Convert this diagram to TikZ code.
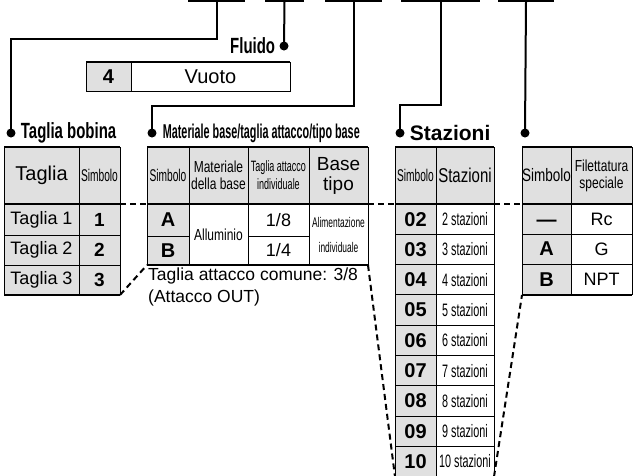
\documentclass[tikz,border=0pt]{standalone}
\usepackage{fontspec}
\setmainfont{Liberation Sans}
\newfontfamily\condfont[FakeStretch=0.75]{Liberation Sans}
\newfontfamily\headfont[FakeStretch=0.68]{Liberation Sans}
\newfontfamily\narrowfont[FakeStretch=0.6]{Liberation Sans}
\newfontfamily\tightfont[FakeStretch=0.54]{Liberation Sans}
\usepackage{tikz}
\usetikzlibrary{positioning}
\definecolor{cellgray}{RGB}{224,224,224}
\tikzset{
  codebox/.style={draw, line width=2pt, anchor=south west, minimum height=24pt, inner sep=0pt},
  lead/.style={line width=2pt},
  dot/.style={circle, fill=black, inner sep=0pt, minimum size=9pt},
  heading/.style={inner sep=1pt, font=\bfseries\headfont\fontsize{22}{24}\selectfont},
  grid/.style={line width=1pt},
  rule/.style={line width=2.2pt},
  hint/.style={line width=2pt, dash pattern=on 6pt off 4pt},
  body/.style={inner sep=0pt, align=center, font=\fontsize{18}{20}\selectfont},
  sym/.style={inner sep=0pt, font=\bfseries\fontsize{20}{22}\selectfont},
  cond/.style={inner sep=0pt, align=center, font=\condfont\fontsize{16}{17}\selectfont},
  slim/.style={inner sep=0pt, align=center, font=\narrowfont\fontsize{17}{18}\selectfont},
}
\begin{document}
\begin{tikzpicture}[x=1pt,y=-1pt]
\path[use as bounding box, clip] (0,0) rectangle (635,475);

% code fields
\node[codebox, minimum width=55pt] (code1) at (188,2) {};
\node[codebox, minimum width=37pt] (code2) at (265,2) {};
\node[codebox, minimum width=55pt] (code3) at (325,2) {};
\node[codebox, minimum width=77pt] (code4) at (401,2) {};
\node[codebox, minimum width=54pt] (code5) at (498,2) {};

\node[dot] (dot-bobina) at (11,133) {};
\node[dot] (dot-fluido) at (284,46) {};
\node[dot] (dot-base) at (152,133) {};
\node[dot] (dot-staz) at (400,133) {};
\node[dot] (dot-filet) at (525,133) {};

\draw[lead] (code1.south) -- ++(0,37) -| (dot-bobina.center);
\draw[lead] (code2.south) -- (dot-fluido.center);
\draw[lead] (code3.south) -- ++(0,104) -| (dot-base.center);
\draw[lead] (code4.south) -- ++(0,103) -| (dot-staz.center);
\draw[lead] (code5.south) -- (dot-filet.center);

\node[heading, right=4pt of dot-bobina] (lbl-bobina) {Taglia bobina};
\node[heading, left=3pt of dot-fluido] (lbl-fluido) {Fluido};
\node[heading, right=5pt of dot-base, font=\bfseries\tightfont\fontsize{20}{22}\selectfont] (lbl-base) {Materiale base/taglia attacco/tipo base};
\node[heading, right=4pt of dot-staz, font=\bfseries\fontsize{21}{24}\selectfont] (lbl-staz) {Stazioni};

% Fluido
\fill[cellgray] (86,62) rectangle (131,91);
\draw[grid] (86,62) rectangle (290,91) (131,62) -- (131,91);
\draw[rule] (86,62) -- (290,62);
\node[sym] (fl-s) at (108.5,76.5) {4};
\node[body, font=\fontsize{20}{22}\selectfont] (fl-n) at (210.5,76.5) {Vuoto};

% Taglia bobina
\fill[cellgray] (4,147) rectangle (120,295);
\draw[grid] (4,147) -- (4,295) (79,147) -- (79,295) (120,147) -- (120,295)
  (4,235) -- (120,235) (4,265) -- (120,265);
\draw[rule] (4,147) -- (120,147) (4,204) -- (120,204) (4,295) -- (120,295);
\node[body, font=\fontsize{20}{22}\selectfont] (tb-h1) at (41.5,175.5) {Taglia};
\node[slim] (tb-h2) at (99.5,175.5) {Simbolo};
\foreach \i/\y in {1/219.5,2/250,3/280}{
  \node[body] (tb-n\i) at (41.5,\y) {Taglia \i};
  \node[sym, font=\bfseries\fontsize{19}{21}\selectfont] (tb-s\i) at (99.5,\y) {\i};
}
\coordinate (bobina-hr) at (120,204);
\coordinate (bobina-se) at (120,295);

% Materiale base
\fill[cellgray] (147,147) rectangle (368,204);
\fill[cellgray] (147,204) rectangle (189,265);
\draw[grid] (147,147) -- (147,265) (189,147) -- (189,265) (248,147) -- (248,265)
  (309,147) -- (309,265) (368,147) -- (368,265) (147,236) -- (189,236) (248,236) -- (309,236);
\draw[rule] (147,147) -- (368,147) (147,204) -- (368,204) (147,265) -- (368,265);
\node[slim] (mb-h1) at (168,175.5) {Simbolo};
\node[cond] (mb-h2) at (218.5,175.5) {Materiale\\della base};
\node[slim, font=\narrowfont\fontsize{15}{18}\selectfont] (mb-h3) at (278.5,175.5) {Taglia attacco\\individuale};
\node[body, font=\fontsize{19}{20}\selectfont] (mb-h4) at (338.5,175.5) {Base\\tipo};
\node[sym] (mb-s1) at (168,220) {A};
\node[sym] (mb-s2) at (168,250.5) {B};
\node[cond] (mb-mat) at (218.5,234.5) {Alluminio};
\node[body] (mb-p1) at (278.5,220) {1/8};
\node[body] (mb-p2) at (278.5,250.5) {1/4};
\node[slim, font=\narrowfont\fontsize{14}{25}\selectfont] (mb-tipo) at (338.5,234.5) {Alimentazione\\individuale};
\node[body, anchor=north west, align=left, font=\fontsize{17.5}{22}\selectfont] (mb-note) at (148,268)
  {Taglia attacco comune: 3/8\\(Attacco OUT)};
\coordinate (base-hl) at (147,204);
\coordinate (base-sw) at (147,265);
\coordinate (base-hr) at (368,204);
\coordinate (base-se) at (368,265);

% Stazioni
\fill[cellgray] (395,147) rectangle (494,204);
\fill[cellgray] (395,204) rectangle (436,477);
\draw[grid] (395,147) -- (395,477) (436,147) -- (436,477) (494,147) -- (494,477);
\foreach \k in {1,...,8}
  \draw[grid] (395,{204+\k*30.3}) -- (494,{204+\k*30.3});
\draw[rule] (395,147) -- (494,147) (395,204) -- (494,204) (395,476.7) -- (494,476.7);
\node[slim] (st-h1) at (415.5,175.5) {Simbolo};
\node[cond, font=\condfont\fontsize{20}{22}\selectfont] (st-h2) at (465,175.5) {Stazioni};
\foreach \n/\m [count=\k] in {02/2,03/3,04/4,05/5,06/6,07/7,08/8,09/9,10/10}{
  \node[sym] (st-s\m) at (415.5,{204+(\k-0.5)*30.3}) {\n};
  \node[slim, font=\narrowfont\fontsize{18}{20}\selectfont] (st-n\m) at (465,{204+(\k-0.5)*30.3}) {\m\ stazioni};
}
\coordinate (staz-hl) at (395,204);
\coordinate (staz-sw) at (395,476.7);
\coordinate (staz-hr) at (494,204);
\coordinate (staz-se) at (494,476.7);

% Filettatura
\fill[cellgray] (522,147) rectangle (632,204);
\fill[cellgray] (522,204) rectangle (571,295);
\draw[grid] (522,147) -- (522,295) (571,147) -- (571,295) (632,147) -- (632,295)
  (522,234) -- (632,234) (522,264) -- (632,264);
\draw[rule] (522,147) -- (632,147) (522,204) -- (632,204) (522,295) -- (632,295);
\node[cond, font=\condfont\fontsize{18}{20}\selectfont] (ft-h1) at (546.5,175.5) {Simbolo};
\node[cond] (ft-h2) at (601.5,175.5) {Filettatura\\speciale};
\node[sym] (ft-s1) at (546.5,223) {—};
\node[sym] (ft-s2) at (546.5,249) {A};
\node[sym] (ft-s3) at (546.5,279.5) {B};
\node[body] (ft-n1) at (601.5,219) {Rc};
\node[body] (ft-n2) at (601.5,249) {G};
\node[body] (ft-n3) at (601.5,279.5) {NPT};
\coordinate (filet-hl) at (522,204);
\coordinate (filet-sw) at (522,295);

% hints
\draw[hint] (bobina-hr) -- (base-hl);
\draw[hint] (bobina-se) -- (base-sw);
\draw[hint] (base-hr) -- (staz-hl);
\draw[hint] (base-se) -- (staz-sw);
\draw[hint] (staz-hr) -- (filet-hl);
\draw[hint] (staz-se) -- (filet-sw);
\end{tikzpicture}
\end{document}
